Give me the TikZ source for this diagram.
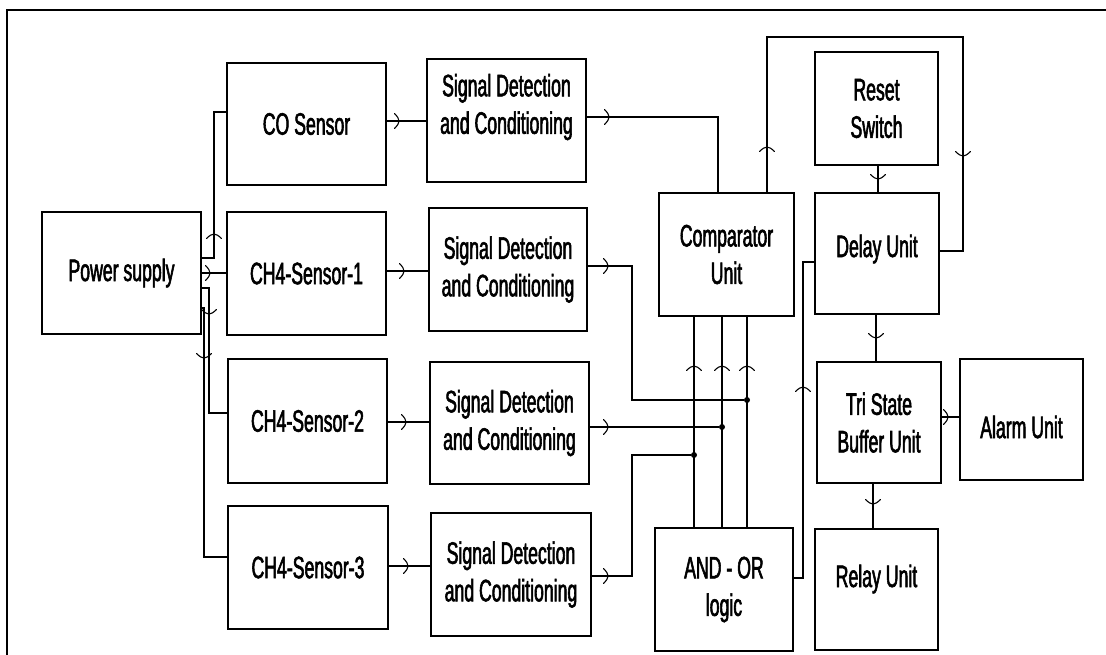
\documentclass[tikz,border=0pt]{standalone}
\usepackage{fontspec}
\setmainfont{Liberation Sans}[FakeStretch=0.57,FakeBold=1.8]
\usetikzlibrary{decorations.markings,calc}
\newcommand{\chevmark}{\draw[line width=1.1pt, line cap=round] (-4.5pt,7.5pt) .. controls (-1.5pt,4.5pt) and (0pt,2pt) .. (0pt,0pt) .. controls (0pt,-2pt) and (-1.5pt,-4.5pt) .. (-4.5pt,-7.5pt);}
\tikzset{
  txt/.style={font=\fontsize{31}{37.5}\selectfont},
  box/.style={draw, line width=2pt, inner sep=1pt, align=center, txt},
  lbl/.style={inner sep=0pt, align=center, txt},
  con/.style={line width=1.6pt},
  arr/.style={postaction={decorate}, decoration={markings, mark=at position #1 with {\chevmark}}},
  arrtwo/.style 2 args={postaction={decorate}, decoration={markings,
      mark=at position #1 with {\chevmark},
      mark=at position #2 with {\chevmark}}},
  dot/.style={circle, fill, inner sep=0pt, minimum size=6pt},
}
\begin{document}
\begin{tikzpicture}[x=1pt,y=-1pt]
\useasboundingbox (0,0) rectangle (1106,654);
\draw[line width=2.5pt] (7,660) -- (7,10) -- (1112,10);

% boxes
\node[box, minimum width=159pt, minimum height=122pt] (ps) at (121.5,273) {Power supply};
\node[box, minimum width=159pt, minimum height=122pt] (co) at (306.5,124) {CO Sensor};
\node[box, minimum width=159pt, minimum height=123pt] (s1) at (306.5,273.5) {CH4-Sensor-1};
\node[box, minimum width=159pt, minimum height=124pt] (s2) at (307.5,421) {CH4-Sensor-2};
\node[box, minimum width=160pt, minimum height=123pt] (s3) at (308,567.5) {CH4-Sensor-3};

\node[box, minimum width=159pt, minimum height=123pt] (d1) at (506.5,120.5) {};
\node[lbl] (d1t) at (506.5,107) {Signal Detection\\and Conditioning};
\node[box, minimum width=158pt, minimum height=123pt] (d2) at (508,269.5) {Signal Detection\\and Conditioning};
\node[box, minimum width=159pt, minimum height=122pt] (d3) at (509.5,423) {Signal Detection\\and Conditioning};
\node[box, minimum width=160pt, minimum height=123pt] (d4) at (511,574.5) {Signal Detection\\and Conditioning};

\node[box, minimum width=135pt, minimum height=123pt] (cmp) at (726.5,254.5) {Comparator\\Unit};
\node[box, minimum width=138pt, minimum height=123pt] (aor) at (724,589.5) {AND - OR\\logic};

\node[box, minimum width=123pt, minimum height=113pt] (rst) at (876.5,108.5) {Reset\\Switch};
\node[box, minimum width=124pt, minimum height=121pt] (dly) at (877,253.5) {};
\node[lbl] (dlyt) at (877,249) {Delay Unit};
\node[box, minimum width=124pt, minimum height=121pt] (tri) at (879,422.5) {Tri State\\Buffer Unit};
\node[box, minimum width=123pt, minimum height=121pt] (alm) at (1021.5,419.5) {};
\node[lbl] (almt) at (1021.5,427) {Alarm Unit};
\node[box, minimum width=123pt, minimum height=121pt] (rly) at (876.5,589.5) {};
\node[lbl] (rlyt) at (876.5,579) {Relay Unit};

% junction dots
\node[dot] (j1) at (747,400) {};
\node[dot] (j2) at (722,427) {};
\node[dot] (j3) at (694,455) {};

% power supply to sensors
\draw[con, arr=36pt] (ps.east |- 0,258) -- (214,258) -- (214,112) -- (co.west |- 0,112);
\draw[con, arr=8pt] (ps.east |- 0,273) -- (s1.west |- 0,273);
\draw[con, arr=33pt] (ps.east |- 0,288) -- (209,288) -- (209,413) -- (s2.west |- 0,413);
\draw[con, arr=52pt] (ps.east |- 0,308) -- (204,308) -- (204,557) -- (s3.west |- 0,557);

% sensors to signal conditioning
\draw[con, arr=12pt] (co.east |- 0,121) -- (d1.west |- 0,121);
\draw[con, arr=17pt] (s1.east |- 0,271) -- (d2.west |- 0,271);
\draw[con, arr=18pt] (s2.east |- 0,422) -- (d3.west |- 0,422);
\draw[con, arr=19pt] (s3.east |- 0,566) -- (d4.west |- 0,566);

% signal conditioning outputs
\draw[con, arr=22pt] (d1.east |- 0,117) -- (718,117) -- (cmp.north -| 718,0);
\draw[con, arr=20pt] (d2.east |- 0,266) -- (632,266) -- (632,400) -- (j1);
\draw[con, arr=18pt] (d3.east |- 0,427) -- (j2);
\draw[con, arr=16pt] (d4.east |- 0,576) -- (632,576) -- (632,455) -- (j3);

% AND-OR to comparator
\draw[con, arr=161pt] (aor.north -| j3) -- (cmp.south -| j3);
\draw[con, arr=161pt] (aor.north -| j2) -- (cmp.south -| j2);
\draw[con, arr=161pt] (aor.north -| j1) -- (cmp.south -| j1);

% comparator loop to delay unit
\draw[con, arrtwo={45pt}{470pt}] (cmp.north -| 767,0) -- (767,37) -- (963,37) -- (963,251) -- (dly.east |- 0,251);

% reset, delay, tri-state
\draw[con, arr=13pt] (rst.south -| 878,0) -- (dly.north -| 878,0);
\draw[con, arr=23pt] (dly.south -| 876,0) -- (tri.north -| 876,0);
\draw[con, arr=200pt] (aor.east |- 0,578) -- (803,578) -- (803,262) -- (dly.west |- 0,262);
\draw[con, arr=6pt] (tri.east |- 0,417) -- (alm.west |- 0,417);
\draw[con, arr=20pt] (tri.south -| 873,0) -- (rly.north -| 873,0);
\end{tikzpicture}
\end{document}
